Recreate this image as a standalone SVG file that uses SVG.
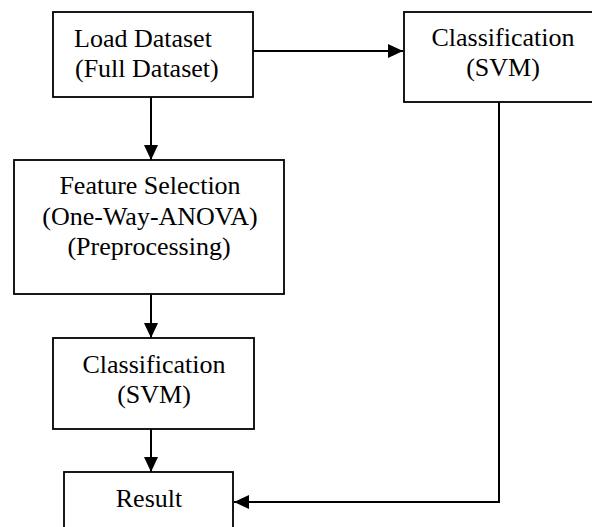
<svg xmlns="http://www.w3.org/2000/svg" width="592" height="527" viewBox="0 0 592 527">
  <style>
    .box { fill: #ffffff; stroke: #000000; stroke-width: 1.8; }
    .lbl { font-family: 'Liberation Serif', serif; font-size: 26px; fill: #000000; }
    .mid { text-anchor: middle; }
    .wire { fill: none; stroke: #000000; stroke-width: 2; }
  </style>
  <defs>
    <marker id="head" markerUnits="userSpaceOnUse" markerWidth="15" markerHeight="14" refX="15" refY="7" orient="auto">
      <path d="M0,0 L15,7 L0,14 Z" fill="#000000"/>
    </marker>
  </defs>
  <rect width="592" height="527" fill="#ffffff"/>

  <g id="connectors">
    <path class="wire" d="M253,51 H403" marker-end="url(#head)"/>
    <path class="wire" d="M151,97 V160" marker-end="url(#head)"/>
    <path class="wire" d="M151,294 V338" marker-end="url(#head)"/>
    <path class="wire" d="M151,429 V472" marker-end="url(#head)"/>
    <path class="wire" d="M499,102 V502 H234" marker-end="url(#head)"/>
  </g>

  <g id="load-dataset">
    <rect class="box" x="53" y="12" width="200" height="85"/>
    <text class="lbl" font-family="Liberation Serif, serif" x="74" y="47">Load Dataset</text>
    <text class="lbl" font-family="Liberation Serif, serif" x="75" y="77">(Full Dataset)</text>
  </g>

  <g id="classification-full">
    <rect class="box" x="404" y="12" width="190" height="90"/>
    <text class="lbl mid" font-family="Liberation Serif, serif" x="503" y="46">Classification</text>
    <text class="lbl mid" font-family="Liberation Serif, serif" x="503" y="76">(SVM)</text>
  </g>

  <g id="feature-selection">
    <rect class="box" x="14" y="160" width="270" height="134"/>
    <text class="lbl mid" font-family="Liberation Serif, serif" x="150" y="194">Feature Selection</text>
    <text class="lbl mid" font-family="Liberation Serif, serif" x="150" y="225">(One-Way-ANOVA)</text>
    <text class="lbl mid" font-family="Liberation Serif, serif" x="149" y="255">(Preprocessing)</text>
  </g>

  <g id="classification-selected">
    <rect class="box" x="53" y="338" width="201" height="91"/>
    <text class="lbl mid" font-family="Liberation Serif, serif" x="154" y="373">Classification</text>
    <text class="lbl mid" font-family="Liberation Serif, serif" x="154" y="403">(SVM)</text>
  </g>

  <g id="result">
    <rect class="box" x="64" y="472" width="169" height="70"/>
    <text class="lbl mid" font-family="Liberation Serif, serif" x="149" y="507">Result</text>
  </g>
</svg>
